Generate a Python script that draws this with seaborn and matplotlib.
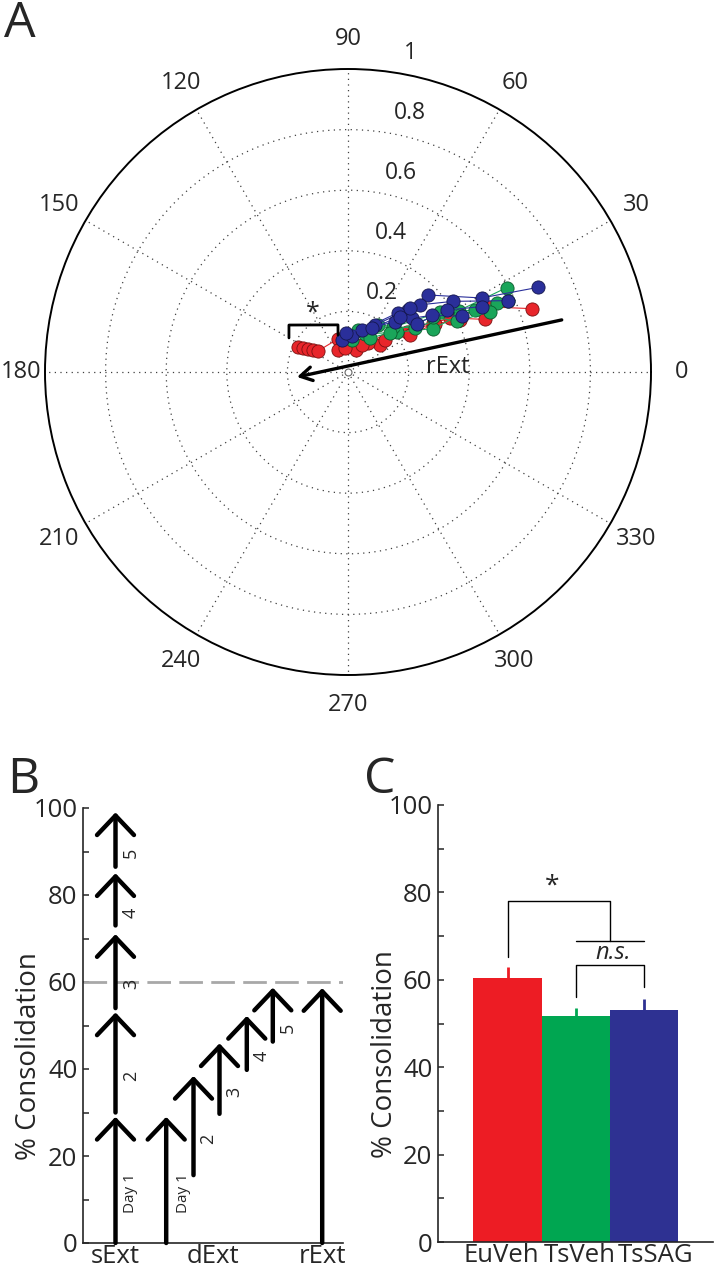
import numpy as np
import matplotlib
matplotlib.use('Agg')
import matplotlib.pyplot as plt
import matplotlib.transforms as mtransforms
import pandas as pd
import seaborn as sns

sns.set_style('white')
plt.rcParams['font.family'] = ['Open Sans', 'DejaVu Sans']

# ---------------- data ----------------
# Panel A: trajectories in polar space (angle in degrees, magnitude)
red_paths = [
    ([153, 152, 150, 148, 145, 107], [0.184, 0.168, 0.152, 0.136, 0.121, 0.114]),
    ([114, 70, 40, 34, 28, 21], [0.080, 0.077, 0.138, 0.235, 0.381, 0.484]),
    ([55, 43, 30, 25, 19], [0.116, 0.203, 0.324, 0.509, 0.642]),
    ([97, 63, 41, 31, 29, 25], [0.080, 0.100, 0.161, 0.238, 0.329, 0.408]),
]
green_paths = [
    ([83, 57, 33, 29, 28], [0.106, 0.184, 0.265, 0.417, 0.593]),
    ([66, 39, 27, 27, 24], [0.137, 0.209, 0.316, 0.415, 0.579]),
    ([77, 45, 33, 26, 25], [0.142, 0.210, 0.361, 0.466, 0.542]),
    ([57, 43, 33, 25, 23], [0.134, 0.189, 0.334, 0.396, 0.509]),
]
blue_paths = [
    ([101, 60, 46, 44, 29, 24], [0.107, 0.179, 0.285, 0.366, 0.504, 0.687]),
    ([84, 72, 50, 43, 34, 24], [0.120, 0.146, 0.255, 0.325, 0.417, 0.579]),
    ([93, 47, 40, 34, 26], [0.129, 0.226, 0.276, 0.335, 0.419]),
    ([61, 47, 46, 35, 32, 26], [0.165, 0.250, 0.294, 0.279, 0.386, 0.493]),
]
theta_ticks = [0, 30, 60, 90, 120, 150, 180, 210, 240, 270, 300, 330]
r_ticks = [0.2, 0.4, 0.6, 0.8]
r_tick_labels = ['0.2', '0.4', '0.6', '0.8', '1']
rext_start = (13.7, 0.726)
rext_end = (185.6, 0.169)

# Panel B: consolidation arrows (start %, end %)
sext_start = [0, 30, 54, 73, 86.5]
sext_end = [29, 53, 71, 85, 99]
dext_start = [0, 15.6, 29.7, 39.8, 46.3]
dext_end = [29, 38.4, 45.9, 52.2, 58.7]
rext_val = [0, 58.6]
day_labels = ['Day 1', '2', '3', '4', '5']
b_categories = ['sExt', 'dExt', 'rExt']

# Panel C: bars
groups = ['EuVeh', 'TsVeh', 'TsSAG']
consolidation = [60.5, 51.8, 53.2]
sem = [2.5, 1.8, 2.5]
bar_colors = ['#ed1c24', '#00a651', '#2e3192']

RED, GREEN, BLUE = '#e8262b', '#1aa55a', '#2a2f9a'
RED_E, GREEN_E, BLUE_E = '#7a1010', '#0b5a2c', '#15174d'

fig = plt.figure(figsize=(7.14, 12.8), dpi=100)

# ---------------- Panel A ----------------
ax = fig.add_axes([45 / 714, 1 - 675 / 1280, 606 / 714, 606 / 1280], projection='polar')
for paths, c, ec in [(red_paths, RED, RED_E), (green_paths, GREEN, GREEN_E), (blue_paths, BLUE, BLUE_E)]:
    for th, rr in paths:
        sns.lineplot(x=np.deg2rad(th), y=rr, sort=False, estimator=None, color=c, lw=0.8,
                     marker='o', markersize=9.5, markerfacecolor=c, markeredgecolor=ec,
                     markeredgewidth=0.6, ax=ax)
ax.plot([0], [0], marker='o', ms=5, mfc='white', mec='0.4', mew=0.8)
ax.set_xlabel('')
ax.set_ylabel('')
ax.set_ylim(0, 1)
ax.set_yticks(r_ticks)
ax.set_yticklabels([])
ax.set_xticks(np.deg2rad(theta_ticks))
ax.set_xticklabels([])
ax.tick_params(axis='both', length=0)
ax.grid(True, linestyle=(0, (1, 3.5)), color='0.25', lw=0.9)
ax.spines['polar'].set_linewidth(1.4)
ax.spines['polar'].set_color('black')
for t in theta_ticks:
    rr = 1.08 if t == 180 else 1.1
    ax.text(np.deg2rad(t), rr, str(t), ha='center', va='center', fontsize=17)
lab_tr = mtransforms.offset_copy(ax.transData, fig=fig, x=6, y=14, units='points')
for v, s in zip(r_ticks + [1.0], r_tick_labels):
    ax.text(np.deg2rad(81), v, s, transform=lab_tr, ha='left', va='center', fontsize=16.5)

ax.annotate('', xy=(np.deg2rad(rext_end[0]), rext_end[1]),
            xytext=(np.deg2rad(rext_start[0]), rext_start[1]),
            arrowprops=dict(arrowstyle='->,head_length=0.6,head_width=0.35', lw=2.4,
                            color='black', shrinkA=0, shrinkB=0, mutation_scale=14))
ax.text(np.deg2rad(2.9), 0.33, 'rExt', fontsize=17, ha='center', va='center')
# significance bracket
br_th = np.deg2rad([150, 141.5, 102, 105.1])
br_r = [0.225, 0.249, 0.159, 0.126]
ax.plot(br_th, br_r, color='black', lw=2)
ax.text(np.deg2rad(121), 0.225, '*', fontsize=18, ha='center', va='center')

# ---------------- Panel B ----------------
axb = fig.add_axes([83 / 714, 1 - 1243 / 1280, 260 / 714, 435 / 1280])
axb.set_xlim(0, 10)
axb.set_ylim(0, 100)
axb.axhline(60, color='#a8a8a8', lw=2, dashes=(8.5, 3))
arrow_kw = dict(arrowstyle='->,head_length=1.0,head_width=0.95', lw=3.2, color='black',
                shrinkA=0, shrinkB=0, mutation_scale=14)
sext_x = 1.25
dext_x = [3.2, 4.25, 5.25, 6.3, 7.3]
rext_x = 9.2
for i in range(5):
    fs = 11 if i == 0 else 13
    axb.annotate('', xy=(sext_x, sext_end[i]), xytext=(sext_x, sext_start[i]), arrowprops=arrow_kw)
    axb.annotate(day_labels[i], xy=(sext_x, (sext_start[i] + sext_end[i] - 6) / 2),
                 xytext=(11, 0), textcoords='offset points', rotation=90,
                 ha='center', va='center', fontsize=fs)
    axb.annotate('', xy=(dext_x[i], dext_end[i]), xytext=(dext_x[i], dext_start[i]), arrowprops=arrow_kw)
    axb.annotate(day_labels[i], xy=(dext_x[i], (dext_start[i] + dext_end[i] - 6) / 2),
                 xytext=(12.5 if i == 0 else 10.5, 0), textcoords='offset points', rotation=90,
                 ha='center', va='center', fontsize=fs)
axb.annotate('', xy=(rext_x, rext_val[1]), xytext=(rext_x, rext_val[0]), arrowprops=arrow_kw)
axb.set_xticks([sext_x, 5.0, rext_x])
axb.set_xticklabels(b_categories)
axb.set_yticks(range(0, 101, 20))
axb.set_yticks(range(10, 100, 20), minor=True)
axb.set_ylabel('% Consolidation', fontsize=20)
axb.yaxis.set_label_coords(-0.154, 0.43)

# ---------------- Panel C ----------------
axc = fig.add_axes([438 / 714, 1 - 1242 / 1280, 275 / 714, 437 / 1280])
df = pd.DataFrame({'group': groups, 'consolidation': consolidation})
sns.barplot(data=df, x='group', y='consolidation', hue='group', palette=bar_colors,
            width=1.0, saturation=1, legend=False, edgecolor='none', linewidth=0, ax=axc)
for i, (m, e, c) in enumerate(zip(consolidation, sem, bar_colors)):
    axc.vlines(i, m, m + e, color=c, lw=2)
axc.set_xlim(-1.02, 3.01)
axc.set_ylim(0, 100)
axc.set_yticks(range(0, 101, 20))
axc.set_yticks(range(10, 100, 20), minor=True)
axc.set_xticks([-0.09, 1.05, 2.17])
axc.set_xticklabels(groups)
axc.set_xlabel('')
axc.set_ylabel('% Consolidation', fontsize=20)
axc.yaxis.set_label_coords(-0.142, 0.43)
# significance brackets
axc.plot([0, 0, 1.5, 1.5], [65.3, 78, 78, 68.9], color='black', lw=1)
axc.plot([1.0, 2.0], [68.9, 68.9], color='black', lw=1)
axc.plot([1.0, 1.0, 2.0, 2.0], [56.1, 63.4, 63.4, 58.4], color='black', lw=1)
axc.text(0.65, 81.5, '*', fontsize=19, ha='center', va='center')
axc.text(1.55, 66.2, 'n.s.', fontsize=17, style='italic', ha='center', va='center')

for a in (axb, axc):
    sns.despine(ax=a)
    a.spines['left'].set_linewidth(1.2)
    a.spines['bottom'].set_linewidth(1.2)
    a.tick_params(axis='y', which='both', direction='in', length=4, width=1.1,
                  labelsize=18.5, pad=4, left=True)
    a.tick_params(axis='x', length=0, labelsize=18.5, pad=1)

fig.text(4 / 714, 1 - 37 / 1280, 'A', fontsize=36, ha='left', va='baseline')
fig.text(7 / 714, 1 - 793 / 1280, 'B', fontsize=36, ha='left', va='baseline')
fig.text(364 / 714, 1 - 793 / 1280, 'C', fontsize=36, ha='left', va='baseline')

fig.savefig('out.png', dpi=100)
